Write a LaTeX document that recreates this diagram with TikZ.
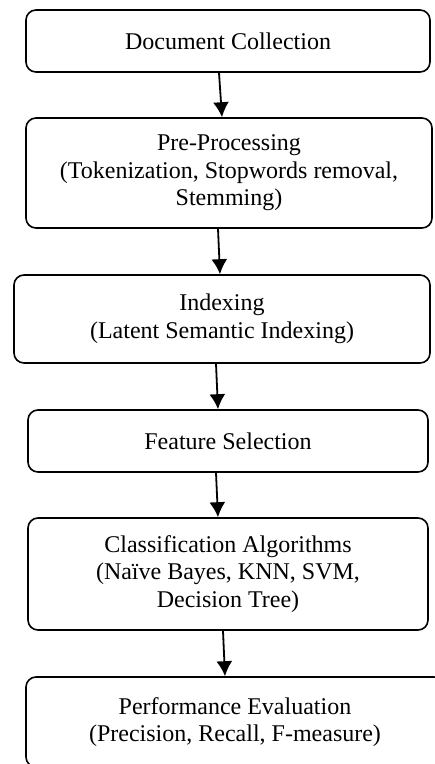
\documentclass[tikz,border=0pt]{standalone}
\usepackage{fontspec}
\setmainfont{Liberation Serif}
\usepackage{tikz}
\usetikzlibrary{arrows.meta}
\tikzset{>={Latex[length=15pt,width=16pt]}}
\tikzset{stage/.style={draw,line width=1.6pt,rounded corners=10pt,inner sep=0pt,align=center,
  font=\fontsize{24pt}{27.5pt}\selectfont}}

\begin{document}
\begin{tikzpicture}[x=1pt,y=-1pt]
            \useasboundingbox (0,0) rectangle (435,764);
            \clip (0,0) rectangle (435,764);
            \node[stage,minimum width=404pt,minimum height=62pt] (doc) at (228,41) {Document Collection};
            \node[stage,minimum width=406pt,minimum height=110pt] (pre) at (229,173) {Pre-Processing\\(Tokenization, Stopwords removal,\\Stemming)};
            \node[stage,minimum width=416pt,minimum height=88pt] (idx) at (222,319) {Indexing\\(Latent Semantic Indexing)};
            \node[stage,minimum width=400pt,minimum height=62pt] (feat) at (228,441) {Feature Selection};
            \node[stage,minimum width=400pt,minimum height=112pt] (cls) at (228,574) {Classification Algorithms\\(Naïve Bayes, KNN, SVM,\\Decision Tree)};
            \node[stage,minimum width=418pt,minimum height=90pt] (perf) at (235,722) {Performance Evaluation\\(Precision, Recall, F-measure)};
            \draw[->,line width=1.8pt] ([xshift=-9pt]doc.south) -- ([xshift=-7pt]pre.north);
            \draw[->,line width=1.8pt] ([xshift=-11pt]pre.south) -- ([xshift=-2pt]idx.north);
            \draw[->,line width=1.8pt] ([xshift=-6pt]idx.south) -- ([xshift=-10pt]feat.north);
            \draw[->,line width=1.8pt] ([xshift=-12pt]feat.south) -- ([xshift=-10pt]cls.north);
            \draw[->,line width=1.8pt] ([xshift=-5pt]cls.south) -- ([xshift=-10pt]perf.north);
        \end{tikzpicture}
\end{document}
